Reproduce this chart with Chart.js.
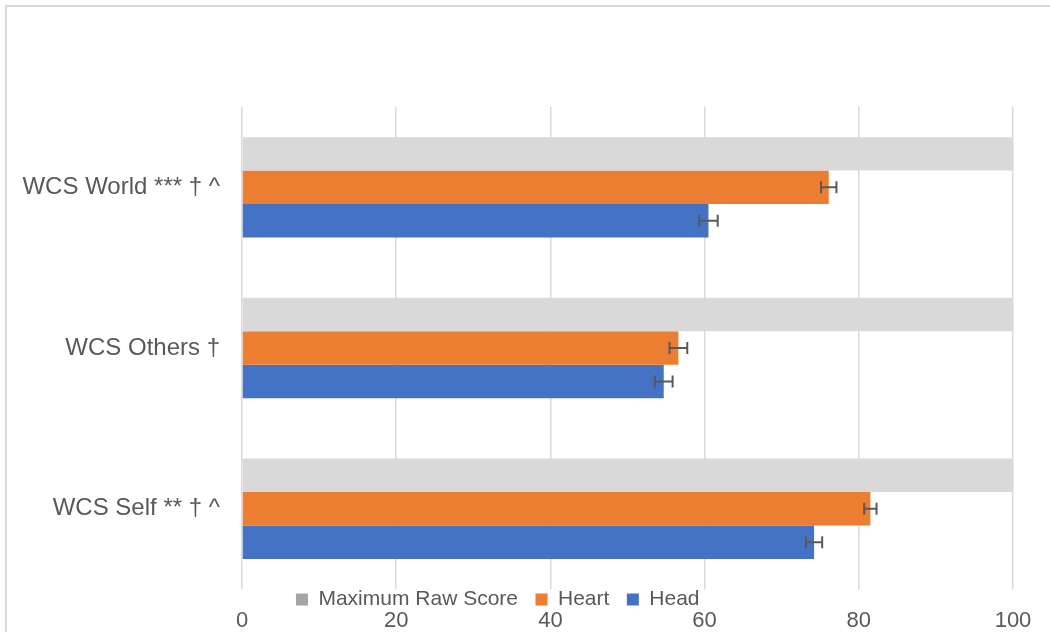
<!DOCTYPE html>
<html>
<head>
<meta charset="utf-8">
<script src="https://cdn.jsdelivr.net/npm/chart.js@4.4.1/dist/chart.umd.min.js"></script>
<style>
body { margin: 0; background: #fff; }
#wrap { position: relative; width: 1050px; height: 632px; overflow: hidden; }
#frame { position: absolute; left: 5px; top: 5px; width: 1100px; height: 700px; border-left: 2px solid #d9d9d9; border-top: 2px solid #d9d9d9; }
canvas { position: absolute; left: 0; top: 0; }
</style>
</head>
<body>
<div id="wrap">
	<div id="frame"></div>
	<canvas id="myChart" width="1050" height="632"></canvas>
</div>
<script>
var categories = ['WCS World *** † ^', 'WCS Others †', 'WCS Self ** † ^'];
var max_scores = [100, 100, 100];
var heart_scores = [76.1, 56.6, 81.5];
var heart_errors = [1.0, 1.15, 0.8];
var head_scores = [60.5, 54.7, 74.2];
var head_errors = [1.2, 1.15, 1.05];
var x_ticks = [0, 20, 40, 60, 80, 100];

var font_family = '"Liberation Sans", Arial, sans-serif';
var text_color = '#595959';

// draws the +/- error whiskers on top of the bars
var errorBars = {
	id: 'errorBars',
	afterDatasetsDraw: function(chart) {
		var ctx = chart.ctx;
		var xScale = chart.scales.x;
		chart.data.datasets.forEach(function(ds, i) {
			if (!ds.errors) return;
			var meta = chart.getDatasetMeta(i);
			meta.data.forEach(function(bar, k) {
				var v = ds.data[k];
				var e = ds.errors[k];
				var x1 = xScale.getPixelForValue(v - e);
				var x2 = xScale.getPixelForValue(v + e);
				var y = bar.y;
				ctx.save();
				ctx.strokeStyle = text_color;
				ctx.lineWidth = 2;
				ctx.beginPath();
				ctx.moveTo(x1, y);
				ctx.lineTo(x2, y);
				ctx.moveTo(x1, y - 6);
				ctx.lineTo(x1, y + 6);
				ctx.moveTo(x2, y - 6);
				ctx.lineTo(x2, y + 6);
				ctx.stroke();
				ctx.restore();
			});
		});
	}
};

const ctx = document.getElementById('myChart');

new Chart(ctx, {
	type: 'bar',
	data: {
		labels: categories,
		datasets: [{
			label: 'Maximum Raw Score',
			data: max_scores,
			backgroundColor: '#d9d9d9',
			legendColor: '#a5a5a5'
		}, {
			label: 'Heart',
			data: heart_scores,
			errors: heart_errors,
			backgroundColor: '#ed7d31'
		}, {
			label: 'Head',
			data: head_scores,
			errors: head_errors,
			backgroundColor: '#4472c4'
		}]
	},
	plugins: [errorBars],
	options: {
		indexAxis: 'y',
		responsive: false,
		animation: false,
		layout: {
			padding: { top: 107, right: 37, left: 0, bottom: 0 }
		},
		datasets: {
			bar: {
				categoryPercentage: 0.625,
				barPercentage: 1
			}
		},
		scales: {
			x: {
				min: 0,
				max: 100,
				weight: 2000,
				afterBuildTicks: function(scale) {
					scale.ticks = x_ticks.map(function(v) { return { value: v }; });
				},
				afterFit: function(scale) {
					scale.height = 21;
				},
				grid: {
					color: '#d9d9d9',
					lineWidth: 1.5,
					drawTicks: false
				},
				border: { display: false },
				ticks: {
					padding: -3,
					color: text_color,
					font: { family: font_family, size: 22 }
				}
			},
			y: {
				afterFit: function(scale) {
					scale.width = 242;
				},
				grid: { display: false },
				border: { display: false },
				ticks: {
					padding: 14,
					color: text_color,
					font: { family: font_family, size: 24 }
				}
			}
		},
		plugins: {
			tooltip: { enabled: false },
			legend: {
				position: 'bottom',
				maxHeight: 22,
				labels: {
					boxWidth: 12,
					boxHeight: 12,
					padding: 0,
					color: text_color,
					font: { family: font_family, size: 21 },
					generateLabels: function(chart) {
						return chart.data.datasets.map(function(ds, i) {
							var colour = ds.legendColor || ds.backgroundColor;
							return {
								text: ds.label + '   ',
								fillStyle: colour,
								strokeStyle: colour,
								lineWidth: 0,
								fontColor: text_color,
								hidden: false,
								datasetIndex: i
							};
						});
					}
				}
			}
		}
	}
});
</script>
</body>
</html>
